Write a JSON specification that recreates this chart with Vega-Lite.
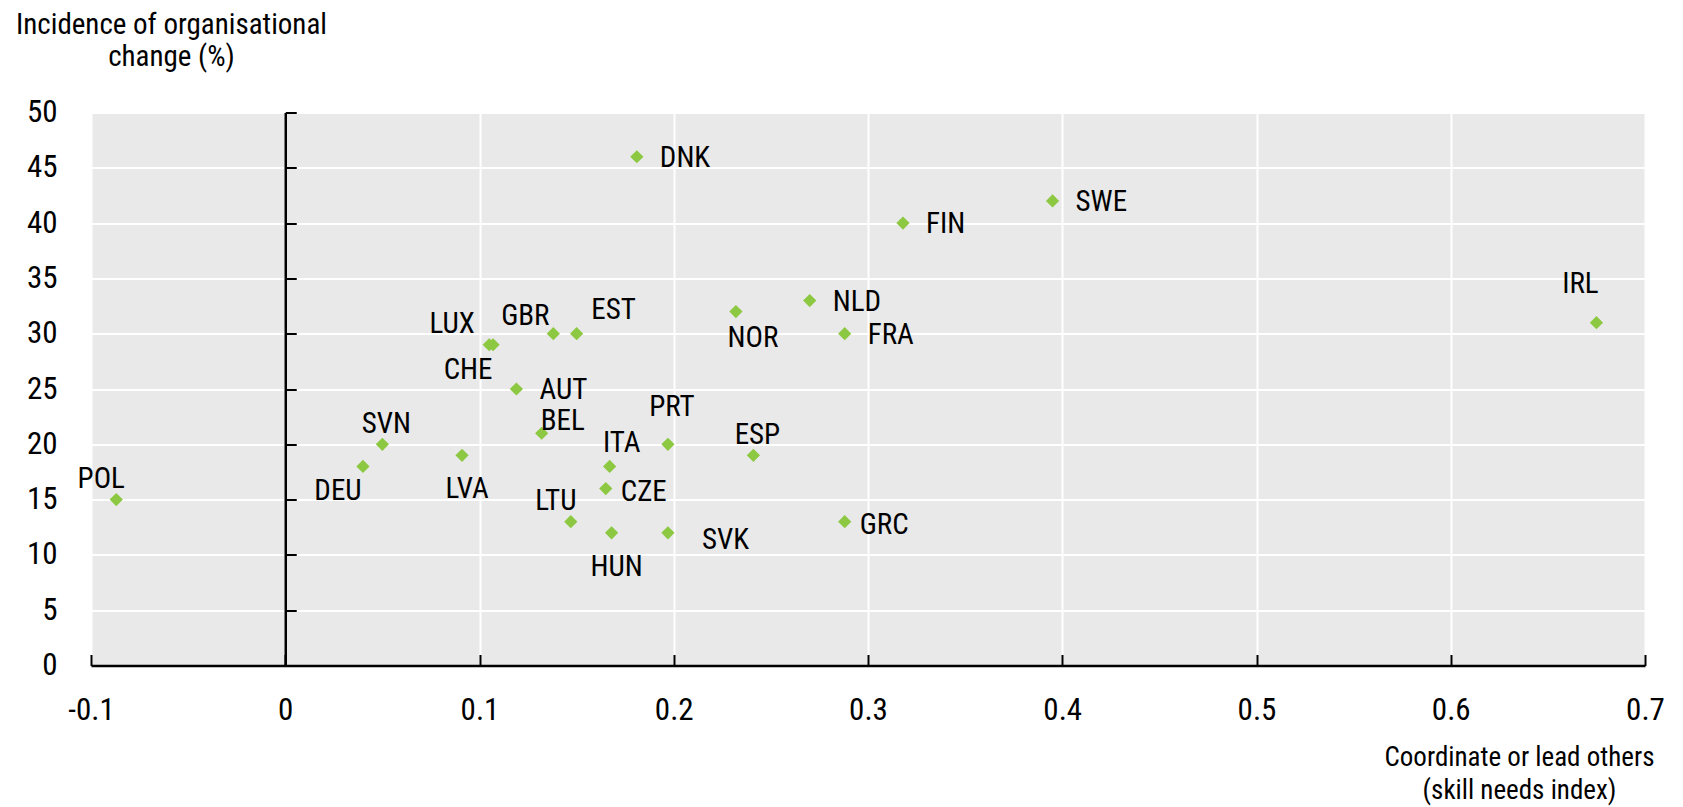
{
  "$schema": "https://vega.github.io/schema/vega-lite/v6.json",
  "width": 1554,
  "height": 553,
  "autosize": {"type": "none"},
  "padding": {"left": 91, "top": 112.5, "right": 38, "bottom": 141.5},
  "background": "white",
  "config": {
    "view": {"fill": "#e9e9e9", "stroke": null},
    "font": "Roboto Condensed",
    "axis": {"labelColor": "black", "titleColor": "black", "labelFont": "Roboto Condensed", "titleFont": "Roboto Condensed", "titleFontWeight": "normal", "labelFlush": false, "labelOverlap": false},
    "text": {"font": "Roboto Condensed", "fontSize": 29, "color": "black", "baseline": "middle"}
  },
  "data": {
    "values": [
      {"c": "DNK", "x": 0.181, "y": 46, "pos": "E"},
      {"c": "SWE", "x": 0.395, "y": 42, "pos": "E"},
      {"c": "FIN", "x": 0.318, "y": 40, "pos": "E"},
      {"c": "IRL", "x": 0.675, "y": 31, "pos": "NW_high"},
      {"c": "NLD", "x": 0.270, "y": 33, "pos": "E"},
      {"c": "NOR", "x": 0.232, "y": 32, "pos": "SSE"},
      {"c": "FRA", "x": 0.288, "y": 30, "pos": "E"},
      {"c": "EST", "x": 0.150, "y": 30, "pos": "NE"},
      {"c": "GBR", "x": 0.138, "y": 30, "pos": "NW"},
      {"c": "LUX", "x": 0.105, "y": 29, "pos": "NW_far"},
      {"c": "CHE", "x": 0.107, "y": 29, "pos": "SW"},
      {"c": "AUT", "x": 0.119, "y": 25, "pos": "E"},
      {"c": "BEL", "x": 0.132, "y": 21, "pos": "NE_low"},
      {"c": "SVN", "x": 0.050, "y": 20, "pos": "N"},
      {"c": "DEU", "x": 0.040, "y": 18, "pos": "SW"},
      {"c": "LVA", "x": 0.091, "y": 19, "pos": "S"},
      {"c": "POL", "x": -0.087, "y": 15, "pos": "NNW"},
      {"c": "PRT", "x": 0.197, "y": 20, "pos": "N_high"},
      {"c": "ITA", "x": 0.167, "y": 18, "pos": "NNE"},
      {"c": "CZE", "x": 0.165, "y": 16, "pos": "E_near"},
      {"c": "LTU", "x": 0.147, "y": 13, "pos": "NNW"},
      {"c": "HUN", "x": 0.168, "y": 12, "pos": "S"},
      {"c": "SVK", "x": 0.197, "y": 12, "pos": "E_low"},
      {"c": "ESP", "x": 0.241, "y": 19, "pos": "N"},
      {"c": "GRC", "x": 0.288, "y": 13, "pos": "E_near"}
    ]
  },
  "resolve": {"axis": {"x": "independent", "y": "independent"}},
  "layer": [
    {
      "mark": {"type": "point", "shape": "diamond", "filled": true, "size": 175, "color": "#8cc841", "opacity": 1, "strokeWidth": 0},
      "encoding": {
        "x": {"field": "x", "type": "quantitative", "scale": {"domain": [-0.1, 0.7], "nice": false, "zero": false},
          "axis": {"orient": "bottom", "values": [-0.1, 0, 0.1, 0.2, 0.3, 0.4, 0.5, 0.6, 0.7],
            "labelExpr": "datum.value < 0 ? '-' + format(-datum.value, '~g') : format(datum.value, '~g')",
            "labelFontSize": 31, "labelPadding": 30, "labelBaseline": "top", "ticks": false, "domain": false,
            "grid": true, "gridColor": "white", "gridWidth": 2, "zindex": 0,
            "title": ["Coordinate or lead others", "(skill needs index)"], "titleFontSize": 27, "titleLineHeight": 33,
            "titleAnchor": null, "titleAlign": "center", "titleBaseline": "alphabetic", "titleX": 1428, "titleY": 100}},
        "y": {"field": "y", "type": "quantitative", "scale": {"domain": [0, 50], "nice": false, "zero": true},
          "axis": {"orient": "left", "values": [0, 5, 10, 15, 20, 25, 30, 35, 40, 45, 50],
            "labelFontSize": 31, "labelPadding": 34, "ticks": false, "domain": false,
            "grid": true, "gridColor": "white", "gridWidth": 2, "zindex": 0,
            "title": ["Incidence of organisational", "change (%)"], "titleFontSize": 29, "titleLineHeight": 32,
            "titleAngle": 0, "titleAnchor": null, "titleAlign": "center", "titleBaseline": "alphabetic", "titleX": 80, "titleY": -79}}
      }
    },
    {
      "mark": {"type": "point", "opacity": 0},
      "encoding": {
        "x": {"field": "x", "type": "quantitative",
          "axis": {"orient": "top", "offset": -553, "values": [-0.1, 0, 0.1, 0.2, 0.3, 0.4, 0.5, 0.6, 0.7],
            "labels": false, "ticks": true, "tickSize": 11, "tickWidth": 2, "tickColor": "black",
            "domain": true, "domainColor": "black", "domainWidth": 2.5, "grid": false, "title": null, "zindex": 1}},
        "y": {"field": "y", "type": "quantitative",
          "axis": {"orient": "right", "offset": -1359.75, "values": [0, 5, 10, 15, 20, 25, 30, 35, 40, 45, 50],
            "labels": false, "ticks": true, "tickSize": 11, "tickWidth": 2, "tickColor": "black",
            "domain": true, "domainColor": "black", "domainWidth": 2.5, "grid": false, "title": null, "zindex": 1}}
      }
    },
    {
      "transform": [{"filter": "datum.pos === 'E'"}],
      "mark": {"type": "text", "align": "left", "dx": 23, "dy": 1},
      "encoding": {"x": {"field": "x", "type": "quantitative", "axis": null}, "y": {"field": "y", "type": "quantitative", "axis": null}, "text": {"field": "c"}}
    },
    {
      "transform": [{"filter": "datum.pos === 'E_near'"}],
      "mark": {"type": "text", "align": "left", "dx": 15, "dy": 3},
      "encoding": {"x": {"field": "x", "type": "quantitative", "axis": null}, "y": {"field": "y", "type": "quantitative", "axis": null}, "text": {"field": "c"}}
    },
    {
      "transform": [{"filter": "datum.pos === 'E_low'"}],
      "mark": {"type": "text", "align": "left", "dx": 34, "dy": 7},
      "encoding": {"x": {"field": "x", "type": "quantitative", "axis": null}, "y": {"field": "y", "type": "quantitative", "axis": null}, "text": {"field": "c"}}
    },
    {
      "transform": [{"filter": "datum.pos === 'N_high'"}],
      "mark": {"type": "text", "align": "center", "dx": 4, "dy": -37},
      "encoding": {"x": {"field": "x", "type": "quantitative", "axis": null}, "y": {"field": "y", "type": "quantitative", "axis": null}, "text": {"field": "c"}}
    },
    {
      "transform": [{"filter": "datum.pos === 'NW_high'"}],
      "mark": {"type": "text", "align": "center", "dx": -16, "dy": -39},
      "encoding": {"x": {"field": "x", "type": "quantitative", "axis": null}, "y": {"field": "y", "type": "quantitative", "axis": null}, "text": {"field": "c"}}
    },
    {
      "transform": [{"filter": "datum.pos === 'N'"}],
      "mark": {"type": "text", "align": "center", "dx": 4, "dy": -20},
      "encoding": {"x": {"field": "x", "type": "quantitative", "axis": null}, "y": {"field": "y", "type": "quantitative", "axis": null}, "text": {"field": "c"}}
    },
    {
      "transform": [{"filter": "datum.pos === 'NNE'"}],
      "mark": {"type": "text", "align": "center", "dx": 12, "dy": -23},
      "encoding": {"x": {"field": "x", "type": "quantitative", "axis": null}, "y": {"field": "y", "type": "quantitative", "axis": null}, "text": {"field": "c"}}
    },
    {
      "transform": [{"filter": "datum.pos === 'NNW'"}],
      "mark": {"type": "text", "align": "center", "dx": -15, "dy": -21},
      "encoding": {"x": {"field": "x", "type": "quantitative", "axis": null}, "y": {"field": "y", "type": "quantitative", "axis": null}, "text": {"field": "c"}}
    },
    {
      "transform": [{"filter": "datum.pos === 'NE_low'"}],
      "mark": {"type": "text", "align": "center", "dx": 21, "dy": -12},
      "encoding": {"x": {"field": "x", "type": "quantitative", "axis": null}, "y": {"field": "y", "type": "quantitative", "axis": null}, "text": {"field": "c"}}
    },
    {
      "transform": [{"filter": "datum.pos === 'NE'"}],
      "mark": {"type": "text", "align": "center", "dx": 37, "dy": -24},
      "encoding": {"x": {"field": "x", "type": "quantitative", "axis": null}, "y": {"field": "y", "type": "quantitative", "axis": null}, "text": {"field": "c"}}
    },
    {
      "transform": [{"filter": "datum.pos === 'NW'"}],
      "mark": {"type": "text", "align": "center", "dx": -28, "dy": -18},
      "encoding": {"x": {"field": "x", "type": "quantitative", "axis": null}, "y": {"field": "y", "type": "quantitative", "axis": null}, "text": {"field": "c"}}
    },
    {
      "transform": [{"filter": "datum.pos === 'NW_far'"}],
      "mark": {"type": "text", "align": "center", "dx": -37, "dy": -21},
      "encoding": {"x": {"field": "x", "type": "quantitative", "axis": null}, "y": {"field": "y", "type": "quantitative", "axis": null}, "text": {"field": "c"}}
    },
    {
      "transform": [{"filter": "datum.pos === 'SW'"}],
      "mark": {"type": "text", "align": "center", "dx": -25, "dy": 25},
      "encoding": {"x": {"field": "x", "type": "quantitative", "axis": null}, "y": {"field": "y", "type": "quantitative", "axis": null}, "text": {"field": "c"}}
    },
    {
      "transform": [{"filter": "datum.pos === 'S'"}],
      "mark": {"type": "text", "align": "center", "dx": 5, "dy": 34},
      "encoding": {"x": {"field": "x", "type": "quantitative", "axis": null}, "y": {"field": "y", "type": "quantitative", "axis": null}, "text": {"field": "c"}}
    },
    {
      "transform": [{"filter": "datum.pos === 'SSE'"}],
      "mark": {"type": "text", "align": "center", "dx": 17, "dy": 26},
      "encoding": {"x": {"field": "x", "type": "quantitative", "axis": null}, "y": {"field": "y", "type": "quantitative", "axis": null}, "text": {"field": "c"}}
    }
  ]
}
